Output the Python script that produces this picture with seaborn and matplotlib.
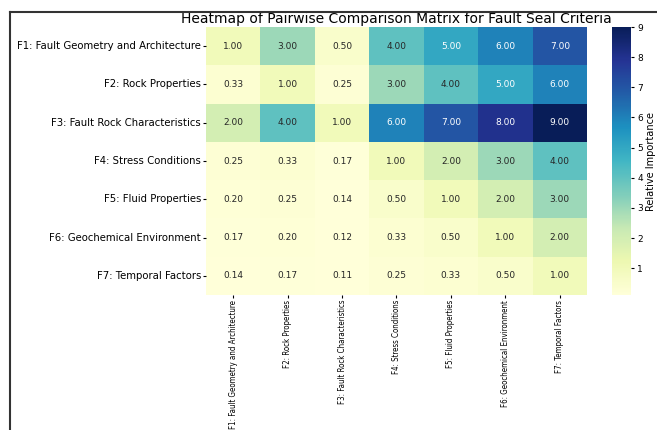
import numpy as np
import pandas as pd
import matplotlib
matplotlib.use("Agg")
import matplotlib.pyplot as plt
from matplotlib.lines import Line2D
import seaborn as sns

# criteria names (rows and columns)
criteria = [
    "F1: Fault Geometry and Architecture",
    "F2: Rock Properties",
    "F3: Fault Rock Characteristics",
    "F4: Stress Conditions",
    "F5: Fluid Properties",
    "F6: Geochemical Environment",
    "F7: Temporal Factors",
]

# pairwise comparison rows
row_f1 = [1.00, 3.00, 0.50, 4.00, 5.00, 6.00, 7.00]
row_f2 = [0.33, 1.00, 0.25, 3.00, 4.00, 5.00, 6.00]
row_f3 = [2.00, 4.00, 1.00, 6.00, 7.00, 8.00, 9.00]
row_f4 = [0.25, 0.33, 0.17, 1.00, 2.00, 3.00, 4.00]
row_f5 = [0.20, 0.25, 0.14, 0.50, 1.00, 2.00, 3.00]
row_f6 = [0.17, 0.20, 0.12, 0.33, 0.50, 1.00, 2.00]
row_f7 = [0.14, 0.17, 0.11, 0.25, 0.33, 0.50, 1.00]

matrix = pd.DataFrame(
    [row_f1, row_f2, row_f3, row_f4, row_f5, row_f6, row_f7],
    index=criteria, columns=criteria,
)

fig = plt.figure(figsize=(6.57, 4.30), dpi=100)
ax = fig.add_axes([0.3135, 0.314, 0.580, 0.623])
cax = fig.add_axes([0.9315, 0.314, 0.029, 0.623])

sns.heatmap(matrix, ax=ax, cbar_ax=cax, cmap="YlGnBu", annot=True, fmt=".2f",
            annot_kws={"fontsize": 6.5})

ax.set_title("Heatmap of Pairwise Comparison Matrix for Fault Seal Criteria",
             fontsize=10, pad=3)
ax.tick_params(axis="y", labelsize=7.3, length=2.5, pad=1)
ax.tick_params(axis="x", length=2.5, pad=1)
plt.setp(ax.get_yticklabels(), rotation=0)
# x labels are drawn in a condensed face
for lbl in ax.get_xticklabels():
    lbl.set_rotation(90)
    lbl.set_family("DejaVu Sans")
    lbl.set_stretch("condensed")
    lbl.set_fontsize(5.7)

cax.tick_params(labelsize=6.5, length=2.5, pad=2)
cax.set_ylabel("Relative Importance", fontsize=7.8, family="DejaVu Sans",
               fontstretch="condensed", labelpad=2)

# screenshot-style frame lines
fig.add_artist(Line2D([10 / 657, 1], [1 - 12 / 430] * 2, color="#333333", lw=1.5))
fig.add_artist(Line2D([10 / 657] * 2, [0, 1 - 12 / 430], color="#333333", lw=1.5))

fig.savefig("out.png", dpi=100)
